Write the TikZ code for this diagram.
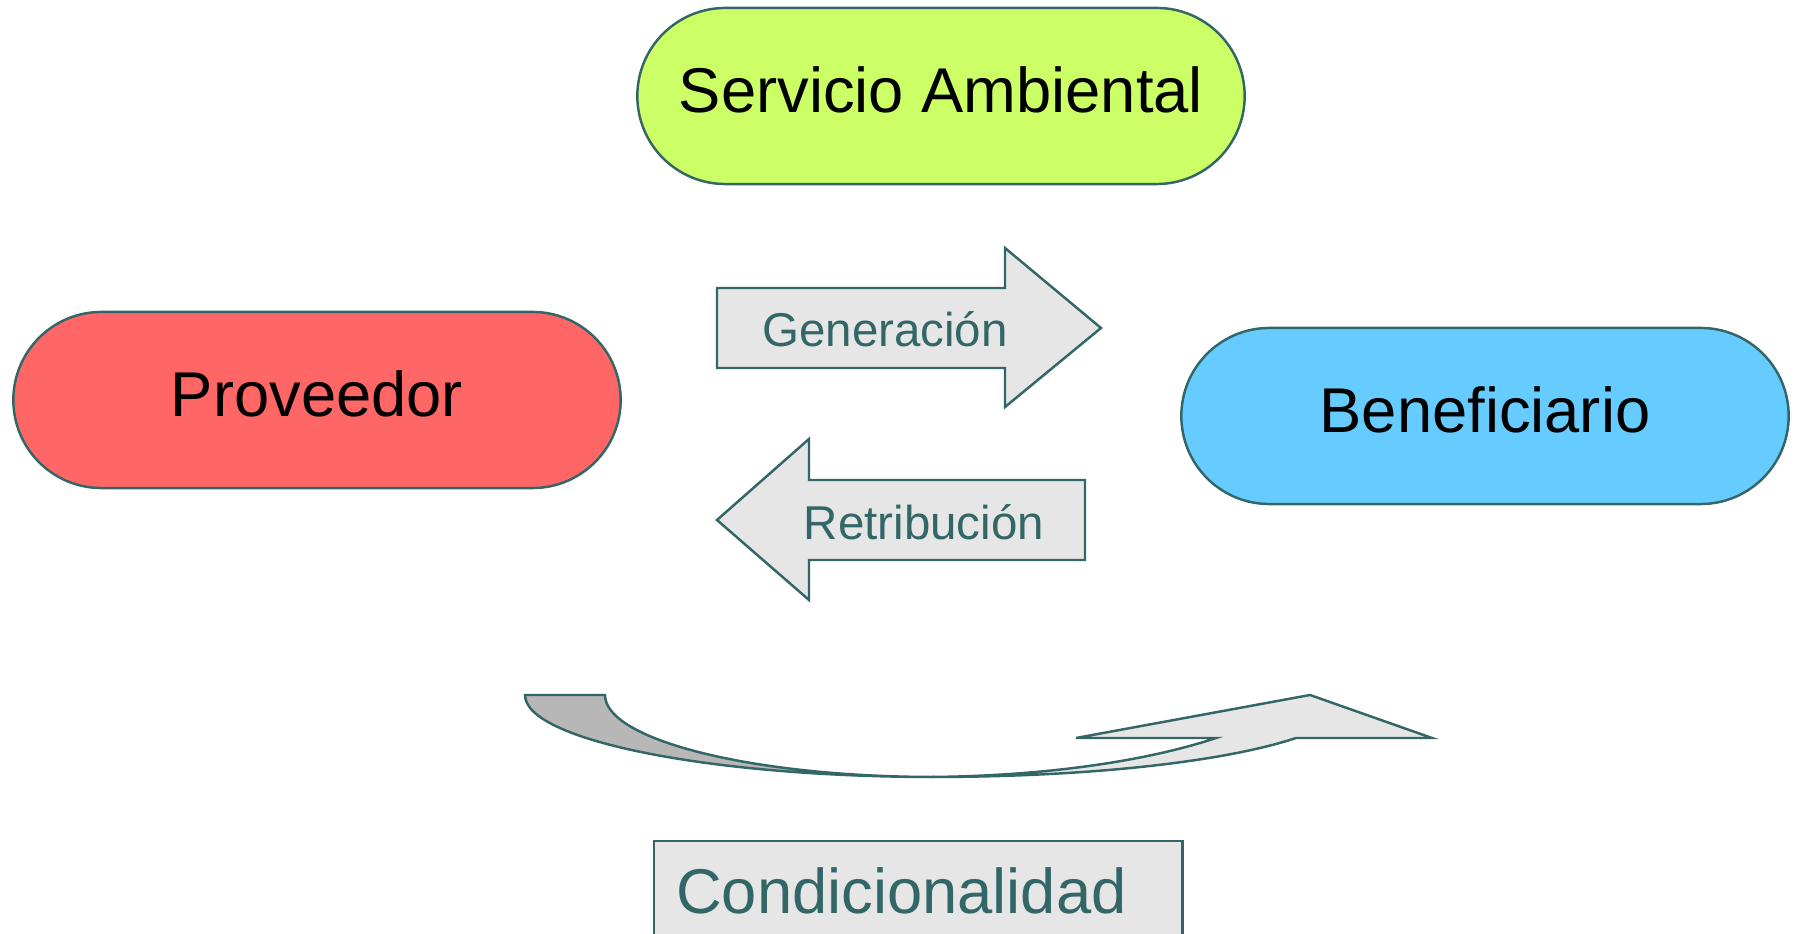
\documentclass[tikz,border=0pt]{standalone}
\usepackage{fontspec}
\setmainfont{Liberation Sans}
\usetikzlibrary{positioning}
\definecolor{borde}{RGB}{51,102,102}
\definecolor{verde}{RGB}{204,255,102}
\definecolor{rojo}{RGB}{255,102,102}
\definecolor{azul}{RGB}{102,204,255}
\definecolor{gris}{RGB}{230,230,230}
\definecolor{grisosc}{RGB}{183,183,183}

\begin{document}
\begin{tikzpicture}[x=0.01cm,y=-0.01cm,line width=0.7pt,
					font=\fontsize{18}{22}\selectfont]
	\tikzstyle{actor}=[draw=borde,rounded corners=0.88cm,minimum width=6.07cm,minimum height=1.76cm,text depth=0.12cm]
	\tikzstyle{flecha}=[draw=borde,fill=gris]
	\tikzstyle{etiqueta}=[text=borde,font=\fontsize{13.5}{16}\selectfont]
	\useasboundingbox (0,0) rectangle (1799,934);

	\node[actor,fill=verde]  (S_A)  at (941,96)    {Servicio Ambiental};
	\node[actor,fill=rojo]   (Prov) at (317,400)   {Proveedor};
	\node[actor,fill=azul]   (Ben)  at (1485,416)  {Beneficiario};

	\draw[flecha] (717,288) -- (1005,288) -- (1005,248) -- (1101,328) -- (1005,407) -- (1005,368) -- (717,368) -- cycle;
	\node[etiqueta] (Gen) at (885,329) {Generación};

	\draw[flecha] (717,520) -- (809,439) -- (809,480) -- (1085,480) -- (1085,560) -- (809,560) -- (809,600) -- cycle;
	\node[etiqueta] (Ret) at (924,522) {Retribución};

	\draw[draw=borde,fill=grisosc] (525,695) -- (605,695) .. controls (605,740) and (753,777) .. (935,777)
		.. controls (709,777) and (525,740) .. (525,695) -- cycle;
	\draw[flecha] (930,777) .. controls (1100,777) and (1230,760) .. (1296,738) -- (1432,738) -- (1310,695)
		-- (1076,738) -- (1216,738) .. controls (1150,760) and (1050,776) .. (930,777) -- cycle;

	\node[draw=borde,fill=gris,text=borde,anchor=north west,minimum width=5.28cm,minimum height=1cm,
		text width=4.84cm,inner xsep=0.22cm,align=left] (Cond) at (653,840) {Condicionalidad};
\end{tikzpicture}
\end{document}
